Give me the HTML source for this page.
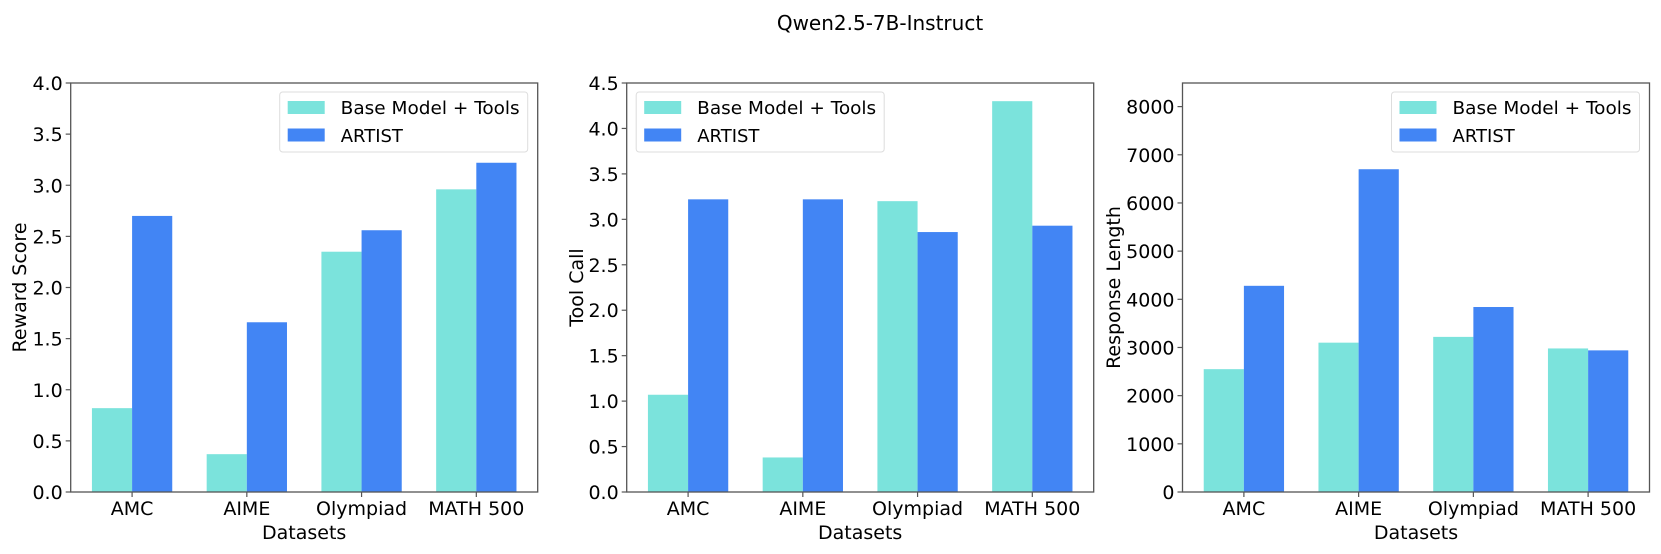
<!DOCTYPE html>
<html><head><meta charset="utf-8"><style>
html,body{margin:0;padding:0;background:#fff;}
svg{display:block;font-family:"DejaVu Sans","Liberation Sans",sans-serif;}
</style></head><body>
<svg id="s" width="1661" height="554" viewBox="0 0 1661 554" xmlns="http://www.w3.org/2000/svg">
<text x="880" y="30" font-size="20" text-anchor="middle" fill="#000">Qwen2.5-7B-Instruct</text>
</svg>
<script>
(function(){
const NS="http://www.w3.org/2000/svg",s=document.getElementById('s');
function el(t,a,txt){const e=document.createElementNS(NS,t);for(const k in a)e.setAttribute(k,a[k]);if(txt!==undefined)e.textContent=txt;s.appendChild(e);return e;}
const T=83,B=492,W=467,FS=19;
const panels=[
 {x0:70.7,ymax:4,ticks:[0,0.5,1,1.5,2,2.5,3,3.5,4],fmt:v=>v.toFixed(1),yl:"Reward Score",ylx:19,
  a:[0.82,0.37,2.35,2.96],b:[2.70,1.66,2.56,3.22],leg:"right"},
 {x0:626.7,ymax:4.5,ticks:[0,0.5,1,1.5,2,2.5,3,3.5,4,4.5],fmt:v=>v.toFixed(1),yl:"Tool Call",ylx:576,
  a:[1.07,0.38,3.20,4.30],b:[3.22,3.22,2.86,2.93],leg:"left"},
 {x0:1182.5,ymax:8490,ticks:[0,1000,2000,3000,4000,5000,6000,7000,8000],fmt:v=>String(v),yl:"Response Length",ylx:1113,
  a:[2550,3100,3220,2980],b:[4280,6700,3840,2940],leg:"right"}
];
const cats=["AMC","AIME","Olympiad","MATH 500"];
panels.forEach(p=>{
 const ux=W/4.07, X=v=>p.x0+(v+0.535)*ux, Y=v=>B-v/p.ymax*(B-T);
 for(let i=0;i<4;i++){
  el('rect',{x:X(i-0.35),y:Y(p.a[i]),width:0.35*ux,height:B-Y(p.a[i]),fill:'#7be3dc'});
  el('rect',{x:X(i),y:Y(p.b[i]),width:0.35*ux,height:B-Y(p.b[i]),fill:'#4285f4'});
  el('line',{x1:X(i),x2:X(i),y1:B,y2:B+5,stroke:'#555','stroke-width':1.2});
  el('text',{x:X(i),y:515,'font-size':FS,'text-anchor':'middle',fill:'#000'},cats[i]);
 }
 p.ticks.forEach(t=>{
  el('line',{x1:p.x0-5,x2:p.x0,y1:Y(t),y2:Y(t),stroke:'#555','stroke-width':1.2});
  el('text',{x:p.x0-8,y:Y(t)+7,'font-size':FS,'text-anchor':'end',fill:'#000'},p.fmt(t));
 });
 el('rect',{x:p.x0,y:T,width:W,height:B-T,fill:'none',stroke:'#555','stroke-width':1.3});
 el('text',{x:p.x0+W/2,y:539,'font-size':FS,'text-anchor':'middle',fill:'#000'},"Datasets");
 const cy=(T+B)/2;
 el('text',{x:p.ylx,y:cy,'font-size':FS,'text-anchor':'middle',fill:'#000',transform:`rotate(-90 ${p.ylx} ${cy})`,dy:7},p.yl);
 const lx=p.leg==="right"?p.x0+W-258:p.x0+9.5;
 el('rect',{x:lx,y:92,width:248,height:60,rx:3,fill:'#fff','fill-opacity':0.8,stroke:'#ddd','stroke-width':1});
 el('rect',{x:lx+8,y:101,width:37,height:13,fill:'#7be3dc'});
 el('rect',{x:lx+8,y:128.5,width:37,height:13,fill:'#4285f4'});
 el('text',{x:lx+61,y:114,'font-size':18,fill:'#000',textLength:179,lengthAdjust:'spacingAndGlyphs'},"Base Model + Tools");
 el('text',{x:lx+61,y:142,'font-size':18,fill:'#000'},"ARTIST");
});
})();
</script>
</body></html>
